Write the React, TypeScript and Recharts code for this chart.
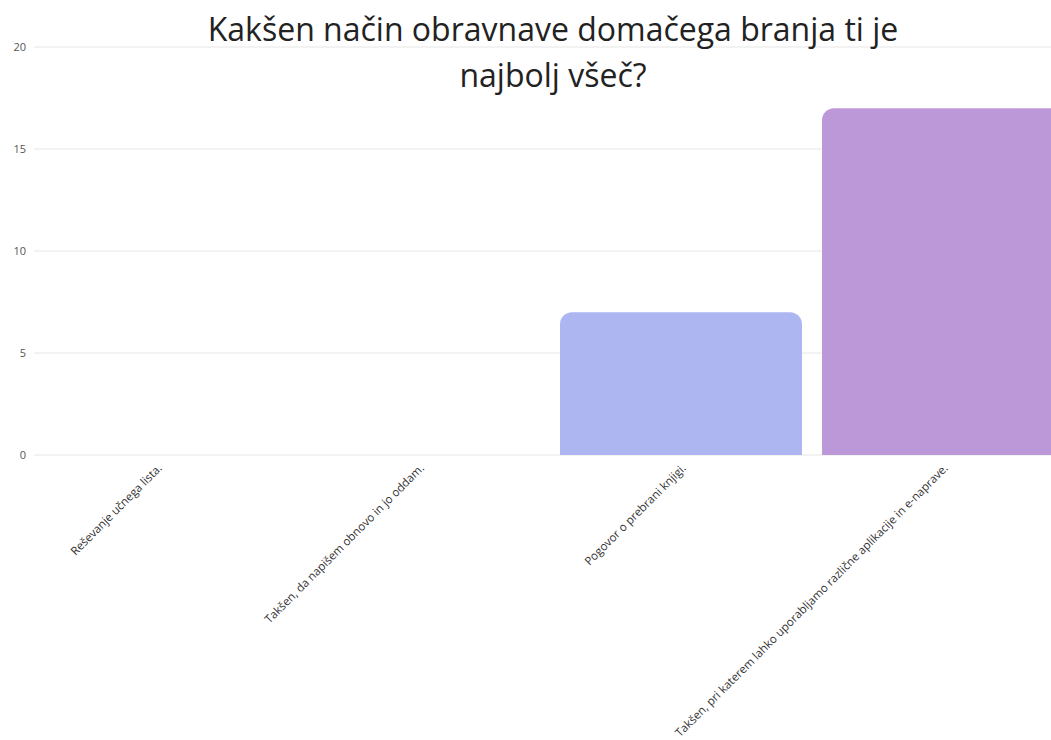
import { BarChart, Bar, XAxis, YAxis, CartesianGrid, Cell } from 'recharts';

const title = ['Kakšen način obravnave domačega branja ti je', 'najbolj všeč?'];

const categories = [
  'Reševanje učnega lista.',
  'Takšen, da napišem obnovo in jo oddam.',
  'Pogovor o prebrani knjigi.',
  'Takšen, pri katerem lahko uporabljamo različne aplikacije in e-naprave.',
];
const counts = [0, 0, 7, 17];
const barColors = ['#8fd3e8', '#9fc5f0', '#aeb6f2', '#bd98d9'];
const yTicks = [0, 5, 10, 15, 20];

const font = '"Open Sans", "Noto Sans", sans-serif';

export default function App() {
  const chartData = categories.map((name, i) => ({ name, value: counts[i] }));

  return (
    <div
      style={{
        position: 'absolute',
        left: 0,
        top: 0,
        width: 1051,
        height: 740,
        overflow: 'hidden',
        background: '#fff',
        fontFamily: font,
      }}
    >
      <BarChart
        width={1074}
        height={740}
        data={chartData}
        margin={{ top: 47, right: 0, left: 0, bottom: 5 }}
        barCategoryGap={10}
      >
        <CartesianGrid vertical={false} stroke="#e6e6e6" />
        <XAxis
          dataKey="name"
          interval={0}
          height={280}
          axisLine={false}
          tickLine={false}
          padding={{ left: -8, right: 0 }}
          angle={-45}
          textAnchor="end"
          tick={{ fontSize: 11.5, fill: '#333', fontFamily: font }}
        />
        <YAxis
          width={34}
          domain={[0, 20]}
          ticks={yTicks}
          axisLine={false}
          tickLine={false}
          tick={{ fontSize: 11, fill: '#555', fontFamily: font }}
        />
        <Bar dataKey="value" radius={[12, 12, 0, 0]} isAnimationActive={false}>
          {chartData.map((_, i) => (
            <Cell key={i} fill={barColors[i]} />
          ))}
        </Bar>
      </BarChart>
      <div
        style={{
          position: 'absolute',
          top: 6,
          left: 103,
          width: 900,
          textAlign: 'center',
          fontSize: 32,
          lineHeight: '46px',
          color: '#222',
          fontFamily: font,
        }}
      >
        {title.map((line) => (
          <div key={line}>{line}</div>
        ))}
      </div>
    </div>
  );
}
